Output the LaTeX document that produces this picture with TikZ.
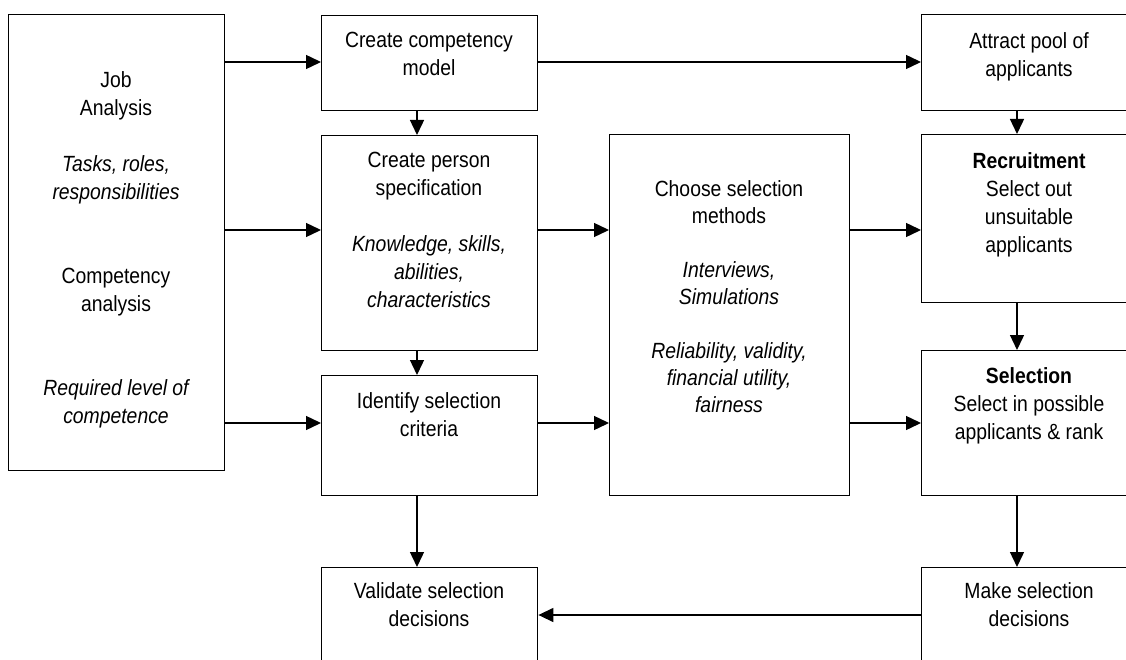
\documentclass[tikz,border=0pt]{standalone}
\usepackage{fontspec}
\setmainfont{Liberation Sans}[FakeStretch=0.88]
\usetikzlibrary{arrows.meta}
\tikzset{
  box/.style={draw, line width=1.4pt, rectangle, inner sep=0pt, anchor=north west},
  txt/.style={align=center, inner sep=0pt, anchor=north, font=\fontsize{22}{28}\selectfont},
  txtb/.style={align=center, inner sep=0pt, anchor=north, font=\fontsize{22}{27}\selectfont},
  arr/.style={line width=1.4pt, -{Triangle[length=15pt,width=14pt]}}
}
\begin{document}
\begin{tikzpicture}[x=1pt,y=-1pt]
\useasboundingbox (0,0) rectangle (1126,660);
\clip (0,0) rectangle (1126,660);
% boxes
\node[box, minimum width=216pt, minimum height=456pt] (job) at (8,14) {};
\node[box, minimum width=216pt, minimum height=95pt]  (ccm) at (321,15) {};
\node[box, minimum width=216pt, minimum height=215pt] (ps)  at (321,135) {};
\node[box, minimum width=216pt, minimum height=120pt] (isc) at (321,375) {};
\node[box, minimum width=216pt, minimum height=150pt] (vsd) at (321,567) {};
\node[box, minimum width=240pt, minimum height=361pt] (csm) at (609,134) {};
\node[box, minimum width=216pt, minimum height=96pt]  (apa) at (921,14) {};
\node[box, minimum width=216pt, minimum height=168pt] (rec) at (921,134) {};
\node[box, minimum width=216pt, minimum height=145pt] (sel) at (921,350) {};
\node[box, minimum width=216pt, minimum height=150pt] (msd) at (921,567) {};
% texts
\node[txt] (jobT) at (116,67.4) {\strut Job\\Analysis\\[28pt]\itshape Tasks, roles,\\\itshape responsibilities\\[56pt]Competency\\analysis\\[56pt]\itshape Required level of\\\itshape competence};
\node[txt] (ccmT) at (429,27.4) {\strut Create competency\\model};
\node[txt] (psT) at (429,147.4) {\strut Create person\\specification\\[28pt]\itshape Knowledge, skills,\\\itshape abilities,\\\itshape characteristics};
\node[txt] (iscT) at (429,388.4) {\strut Identify selection\\criteria};
\node[txt] (vsdT) at (429,578.4) {\strut Validate selection\\decisions};
\node[txtb] (csmT) at (729,177.1) {\strut Choose selection\\methods\\[27pt]\itshape Interviews,\\\itshape Simulations\\[27pt]\itshape Reliability, validity,\\\itshape financial utility,\\\itshape fairness};
\node[txt] (apaT) at (1029,28.4) {\strut Attract pool of\\applicants};
\node[txt] (recT) at (1029,148.4) {\strut\textbf{Recruitment}\\Select out\\unsuitable\\applicants};
\node[txt] (selT) at (1029,363.4) {\strut\textbf{Selection}\\Select in possible\\applicants \& rank};
\node[txt] (msdT) at (1029,578.4) {\strut Make selection\\decisions};
% connectors
\draw[arr] (job.east |- 0,62) -- (ccm.west |- 0,62);
\draw[arr] (job.east |- 0,230) -- (ps.west |- 0,230);
\draw[arr] (job.east |- 0,423) -- (isc.west |- 0,423);
\draw[arr] (ccm.east |- 0,62) -- (apa.west |- 0,62);
\draw[arr] (ccm.south -| 417,0) -- (ps.north -| 417,0);
\draw[arr] (ps.south -| 417,0) -- (isc.north -| 417,0);
\draw[arr] (isc.south -| 417,0) -- (vsd.north -| 417,0);
\draw[arr] (ps.east |- 0,230) -- (csm.west |- 0,230);
\draw[arr] (isc.east |- 0,423) -- (csm.west |- 0,423);
\draw[arr] (csm.east |- 0,230) -- (rec.west |- 0,230);
\draw[arr] (csm.east |- 0,423) -- (sel.west |- 0,423);
\draw[arr] (apa.south -| 1017,0) -- (rec.north -| 1017,0);
\draw[arr] (rec.south -| 1017,0) -- (sel.north -| 1017,0);
\draw[arr] (sel.south -| 1017,0) -- (msd.north -| 1017,0);
\draw[arr] (msd.west |- 0,615) -- (vsd.east |- 0,615);
\end{tikzpicture}
\end{document}
